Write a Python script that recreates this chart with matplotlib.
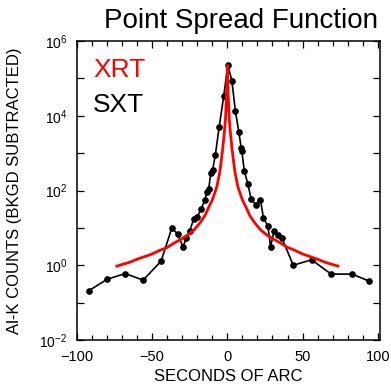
"""Point spread function: XRT vs SXT."""
import numpy as np
import matplotlib
matplotlib.use('Agg')
import matplotlib.pyplot as plt
from matplotlib.ticker import FixedLocator, MultipleLocator, FuncFormatter

plt.rcParams['font.family'] = ['Liberation Sans', 'DejaVu Sans']
plt.rcParams['mathtext.fontset'] = 'custom'
plt.rcParams['mathtext.rm'] = 'Liberation Sans'
plt.rcParams['mathtext.it'] = 'Liberation Sans:italic'
plt.rcParams['mathtext.bf'] = 'Liberation Sans:bold'

# SXT measured profile (seconds of arc, counts)
sxt_x = [-92, -80, -68, -56, -44, -37, -33, -29.5, -27.3, -25, -22.4, -20,
         -17.5, -15, -13.5, -12.4, -11, -9.8, -8, -5.5, -2.4, 0.3, 3, 5.3,
         7.6, 9.2, 9.6, 11.3, 13.6, 15.8, 18.8, 22, 24, 27, 28.7, 31, 33.5,
         36.4, 43.8, 56, 69, 83, 94]
sxt_y = [0.21, 0.42, 0.60, 0.40, 1.3, 9.8, 6.8, 3.1, 5.4, 8.5, 17, 19.5,
         32, 55, 91, 112, 290, 355, 890, 4900, 34000, 224000, 87000, 13500,
         3700, 1380, 1120, 330, 150, 60, 42, 55, 18.6, 11, 3.1, 8.1, 6.6,
         5.2, 1.0, 1.4, 0.58, 0.58, 0.38]

# XRT model profile
xrt_x = [-73.5, -65, -60, -50, -45, -40, -35, -30, -26, -22, -18, -15,
         -12.5, -10, -7, -5, -3.3, -2, -1.2, -0.5, 0,
         0.5, 1.2, 2, 3.3, 5, 7, 10, 12.5, 15, 18, 22, 26, 30, 35, 40, 45,
         50, 60, 65, 73.5]
xrt_y = [0.95, 1.2, 1.45, 2.0, 2.5, 3.0, 4.0, 5.2, 6.6, 8.9, 14, 21,
         35, 56, 126, 316, 1120, 3550, 8900, 40000, 224000,
         40000, 8900, 3550, 1120, 316, 126, 56, 35, 21, 14, 8.9, 6.6, 5.2,
         4.0, 3.0, 2.5, 2.0, 1.45, 1.2, 0.95]

fig = plt.figure(figsize=(3.91, 3.85), dpi=100)
ax = fig.add_axes([77/391, 45/385, 303/391, 299/385])

ax.plot(sxt_x, sxt_y, color='black', linewidth=1.2, marker='o',
        markersize=3.8, zorder=2)
ax.plot(xrt_x, xrt_y, color='red', linewidth=2.0, zorder=3)

ax.set_yscale('log')
ax.set_xlim(-100, 101.5)
ax.set_ylim(1e-2, 1e6)

decades = [10.0**k for k in range(-2, 7)]
ax.yaxis.set_major_locator(FixedLocator(decades))
ax.yaxis.set_minor_locator(FixedLocator([]))

def ylab(v, pos):
    k = int(round(np.log10(v)))
    return f'10$^{{{k}}}$' if k % 2 == 0 else ''

ax.yaxis.set_major_formatter(FuncFormatter(ylab))
ax.xaxis.set_major_locator(MultipleLocator(50))
ax.xaxis.set_minor_locator(MultipleLocator(10))
ax.xaxis.set_major_formatter(FuncFormatter(lambda v, p: f'{v:.0f}'.replace('-', '\u2212')))

ax.tick_params(which='both', direction='in', top=True, right=True,
               width=0.9)
ax.tick_params(axis='x', labelsize=10.5, pad=7)
ax.tick_params(axis='y', labelsize=10, pad=7)
ax.tick_params(which='major', length=5)
ax.tick_params(which='minor', length=3.5)
for s in ax.spines.values():
    s.set_linewidth(1.1)

ax.set_xlabel('SECONDS OF ARC', fontsize=12)
ax.set_ylabel('Al-K COUNTS (BKGD SUBTRACTED)', fontsize=12)
ax.xaxis.set_label_coords(0.5, -0.098)
ax.yaxis.set_label_coords(-0.182, 0.5)

fig.text(378/391, 1 - 28/385, 'Point Spread Function', fontsize=20,
         ha='right', va='baseline')
fig.text(93/391, 1 - 77/385, 'XRT', fontsize=19, color='red', va='baseline')
fig.text(93/391, 1 - 112/385, 'SXT', fontsize=19, color='black', va='baseline')

fig.savefig('out.png', dpi=100)
print("Saved: out.png")
